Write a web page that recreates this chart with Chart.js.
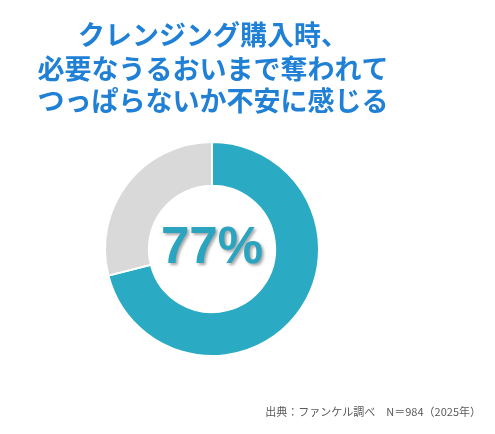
<!DOCTYPE html>
<html>
<head>
<meta charset="utf-8">
<script src="https://cdn.jsdelivr.net/npm/chart.js@4/dist/chart.umd.min.js"></script>
<style>
  html, body { margin: 0; padding: 0; background: #fff; }
  #wrap { width: 495px; height: 434px; }
</style>
</head>
<body>
<div id="wrap"><canvas id="myChart"></canvas></div>
<script>
const categories = ['不安に感じる', 'その他'];
const values = [71, 29];
const centerLabel = '77%';
const titleLines = ['クレンジング購入時、', '必要なうるおいまで奪われて', 'つっぱらないか不安に感じる'];
const sourceNote = '出典：ファンケル調べ　N＝984（2025年）';

const ctx = document.getElementById('myChart');

const textPlugin = {
  id: 'texts',
  afterDraw(chart) {
    const c = chart.ctx;
    const area = chart.chartArea;
    const cx = (area.left + area.right) / 2;
    const cy = (area.top + area.bottom) / 2;

    // title
    c.save();
    c.fillStyle = '#1f80d6';
    c.font = 'bold 27px "Noto Sans CJK JP"';
    c.textAlign = 'center';
    c.textBaseline = 'middle';
    const ys = [35, 69, 101];
    titleLines.forEach((t, i) => c.fillText(t, 213, ys[i]));
    c.restore();

    // center value
    c.save();
    c.font = 'bold 51px "Liberation Sans"';
    c.textAlign = 'center';
    c.textBaseline = 'middle';
    c.shadowColor = 'rgba(0,0,0,0.35)';
    c.shadowOffsetX = 2;
    c.shadowOffsetY = 2;
    c.shadowBlur = 3;
    c.fillStyle = '#2aa4bf';
    c.fillText(centerLabel, cx, cy);
    c.restore();

    // source
    c.save();
    c.font = '11px "Noto Sans CJK JP"';
    c.fillStyle = '#595959';
    c.textAlign = 'right';
    c.textBaseline = 'middle';
    c.fillText(sourceNote, 481, 412);
    c.restore();
  }
};

new Chart(ctx, {
  type: 'doughnut',
  data: {
    labels: categories,
    datasets: [{
      data: values,
      backgroundColor: ['#2aabc3', '#d9d9d9'],
      borderColor: '#ffffff',
      borderWidth: 2
    }]
  },
  options: {
    responsive: true,
    maintainAspectRatio: false,
    animation: false,
    cutout: '59%',
    layout: {
      padding: { left: 104, right: 175, top: 141, bottom: 77 }
    },
    plugins: {
      legend: { display: false },
      tooltip: { enabled: false }
    }
  },
  plugins: [textPlugin]
});
</script>
</body>
</html>
